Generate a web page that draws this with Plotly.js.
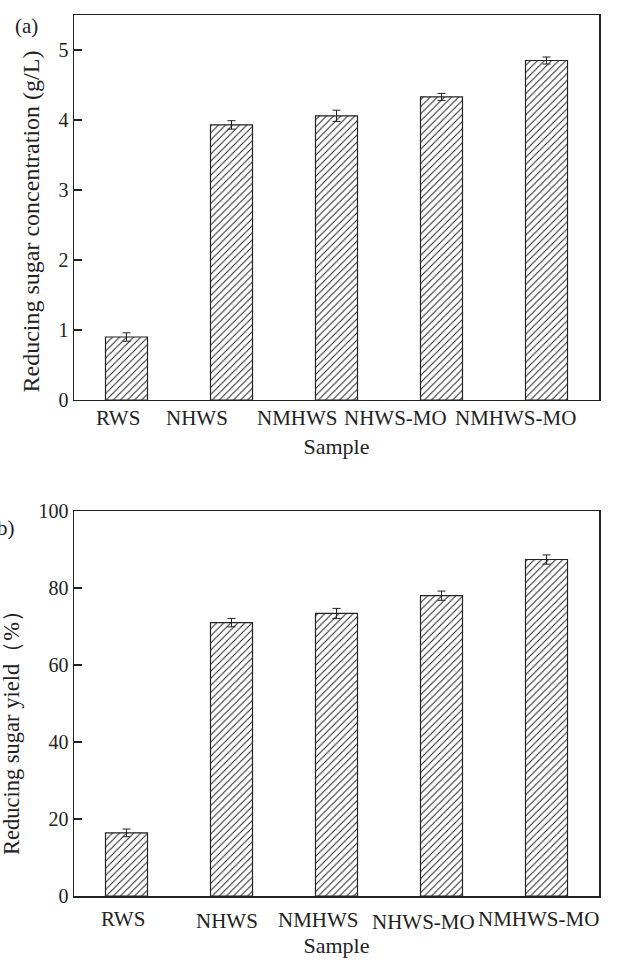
<!DOCTYPE html>
<html>
<head>
<meta charset="utf-8">
<script src="https://cdn.plot.ly/plotly-3.0.1.min.js"></script>
<style>html,body{margin:0;padding:0;background:#fff;}#chart{width:619px;height:969px;}</style>
</head>
<body>
<div id="chart"></div>
<script>
const samples = ["RWS", "NHWS", "NMHWS", "NHWS-MO", "NMHWS-MO"];
const concentration = [0.90, 3.93, 4.06, 4.33, 4.85];
const concentrationErr = [0.06, 0.06, 0.08, 0.05, 0.05];
const yieldPct = [16.4, 71.0, 73.4, 78.0, 87.4];
const yieldErr = [1.0, 1.1, 1.3, 1.2, 1.2];
const concTicks = [0, 1, 2, 3, 4, 5];
const yieldTicks = [0, 20, 40, 60, 80, 100];

const FONT = "Liberation Serif, Times New Roman, serif";
const INK = "#222";

// label placement (layout only): shift of each category label, in category units
const labelShiftA = [-0.082, -0.333, -0.371, -0.435, -0.295];
const labelShiftB = [-0.029, -0.041, -0.171, -0.167, -0.076];
const labelDropB = [0, 2, 1, 3, 0];

function barTrace(y, err, yaxis) {
  return {
    type: "bar",
    x: samples,
    y: y,
    xaxis: yaxis === "y" ? "x" : "x2",
    yaxis: yaxis,
    width: 0.4,
    marker: {
      color: "white",
      line: {color: INK, width: 1.2},
      pattern: {shape: "/", size: 5, solidity: 0.2, fgcolor: INK, bgcolor: "white", fillmode: "replace"}
    },
    error_y: {type: "data", array: err, visible: true, color: INK, thickness: 1, width: 4},
    hoverinfo: "x+y",
    showlegend: false
  };
}

const axisCommon = {
  showline: true, mirror: true, linecolor: INK, linewidth: 1.5,
  showgrid: false, zeroline: false,
  tickfont: {family: FONT, size: 20, color: INK}
};
const labelFont = {family: FONT, size: 21, color: INK};
const titleFont = {family: FONT, size: 22, color: INK};

const annotations = [];
samples.forEach((s, i) => {
  annotations.push({text: s, xref: "x", yref: "paper", x: i + labelShiftA[i], y: 0.5426,
    xanchor: "center", yanchor: "middle", showarrow: false, font: labelFont});
  annotations.push({text: s, xref: "x2", yref: "paper", x: i + labelShiftB[i], y: -0.026, yshift: -labelDropB[i],
    xanchor: "center", yanchor: "middle", showarrow: false, font: labelFont});
});
annotations.push(
  {text: "Reducing sugar concentration (g/L)", xref: "paper", yref: "paper", x: -0.0819, y: 0.7656,
   textangle: -90, xanchor: "center", yanchor: "middle", showarrow: false, font: {family: FONT, size: 24, color: INK}},
  {text: "Reducing sugar yield（%）", xref: "paper", yref: "paper", x: -0.12, y: 0.1918,
   textangle: -90, xanchor: "center", yanchor: "middle", showarrow: false, font: {family: FONT, size: 22.5, color: INK}},
  {text: "(a)", xref: "paper", yref: "paper", x: -0.0914, y: 0.988, xanchor: "center", yanchor: "middle",
   showarrow: false, font: {family: FONT, size: 21, color: INK}},
  {text: "(b)", xref: "paper", yref: "paper", x: -0.137, y: 0.4177, xanchor: "center", yanchor: "middle",
   showarrow: false, font: {family: FONT, size: 21, color: INK}}
);

const layout = {
  width: 619, height: 969,
  margin: {l: 74, r: 20, t: 15, b: 73},
  paper_bgcolor: "white", plot_bgcolor: "white",
  font: {family: FONT, color: INK},
  xaxis: Object.assign({}, axisCommon, {
    anchor: "y", domain: [0, 1], range: [-0.5, 4.5],
    ticks: "", showticklabels: false,
    title: {text: "Sample", font: titleFont, standoff: 38}
  }),
  yaxis: Object.assign({}, axisCommon, {
    anchor: "x", domain: [0.563, 1], range: [0, 5.5],
    tickvals: concTicks, ticks: "inside", ticklen: 8, tickwidth: 1.2, tickcolor: INK
  }),
  xaxis2: Object.assign({}, axisCommon, {
    anchor: "y2", domain: [0, 1], range: [-0.5, 4.5],
    ticks: "", showticklabels: false,
    title: {text: "Sample", font: titleFont, standoff: 41}
  }),
  yaxis2: Object.assign({}, axisCommon, {
    anchor: "x2", domain: [0, 0.437], range: [0, 100],
    tickvals: yieldTicks, ticks: "inside", ticklen: 8, tickwidth: 1.2, tickcolor: INK
  }),
  annotations: annotations
};

Plotly.newPlot("chart", [barTrace(concentration, concentrationErr, "y"), barTrace(yieldPct, yieldErr, "y2")], layout, {displayModeBar: false, staticPlot: true});
</script>
</body>
</html>
